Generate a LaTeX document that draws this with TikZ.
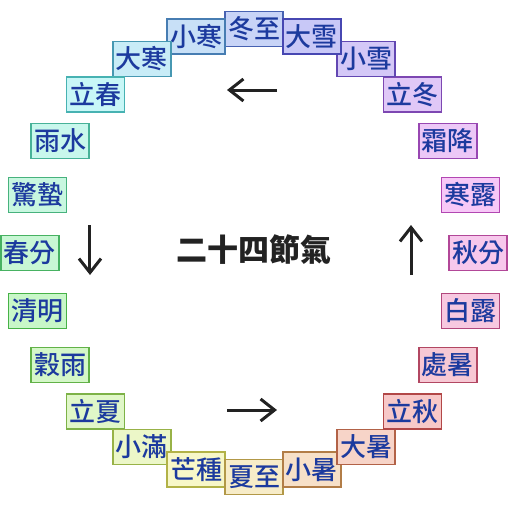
\documentclass[tikz,border=0pt]{standalone}
\usepackage{fontspec}
\usepackage{tikz}
\usetikzlibrary{arrows.meta}
\newfontfamily\cjk{Noto Sans CJK TC}
\newfontfamily\cjkmid{Noto Sans CJK TC Medium}
\definecolor{ink}{RGB}{34,34,34}
\definecolor{termtext}{RGB}{28,58,158}

\begin{document}
\begin{tikzpicture}[x=1pt, y=1pt,
    box/.style={draw=termdraw, fill=termfill, line width=1.6pt, minimum width=58pt,
                minimum height=35pt, inner sep=0pt, font=\cjkmid\fontsize{26}{26}\selectfont, text=termtext},
    arr/.style={-{Straight Barb[length=14pt, width=22pt]}, line width=3pt, draw=ink}
  ]
  \useasboundingbox (-254,-251) rectangle (256,253);
  % the 24 terms, counter-clockwise from the top
  \foreach \term [count=\i from 0] in {冬至,小寒,大寒,立春,雨水,驚蟄,春分,清明,穀雨,立夏,小滿,芒種,
                                       夏至,小暑,大暑,立秋,處暑,白露,秋分,寒露,霜降,立冬,小雪,大雪} {
    \pgfmathtruncatemacro\ang{90+15*\i}
    \pgfmathtruncatemacro\hue{mod(585-15*\i,360)}
    \definecolor{hsbfill}{Hsb}{\hue,0.19,0.97}
    \definecolor{hsbdraw}{Hsb}{\hue,0.6,0.7}
    \colorlet{termfill}[rgb]{hsbfill}
    \colorlet{termdraw}[rgb]{hsbdraw}
    \node[box] (t\i) at (\ang:224) {\term};
  }
  \node[font=\cjk\bfseries\fontsize{31}{31}\selectfont, text=ink] (title) at (0,3) {二十四節氣};
  \coordinate (topA) at (23,163);
  \coordinate (topB) at (-27,163);
  \coordinate (leftA) at (-164,28);
  \coordinate (leftB) at (-164,-22);
  \coordinate (botA) at (-27,-157);
  \coordinate (botB) at (23,-157);
  \coordinate (rightA) at (157,-22);
  \coordinate (rightB) at (157,28);
  \draw[arr] (topA) -- (topB);
  \draw[arr] (leftA) -- (leftB);
  \draw[arr] (botA) -- (botB);
  \draw[arr] (rightA) -- (rightB);
\end{tikzpicture}
\end{document}
